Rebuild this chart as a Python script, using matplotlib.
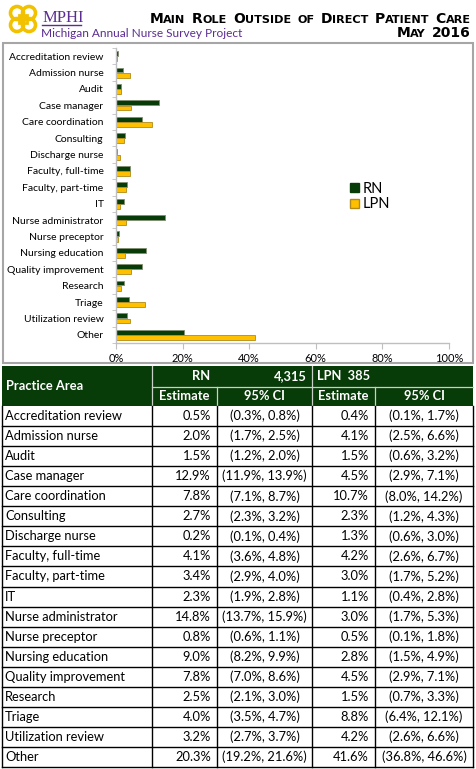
import matplotlib
matplotlib.use("Agg")
import matplotlib.pyplot as plt
from matplotlib.patches import Rectangle, Circle, Patch
from matplotlib.offsetbox import TextArea, HPacker, AnchoredOffsetbox
import numpy as np

# ---- data -------------------------------------------------------------
areas = [
    "Accreditation review", "Admission nurse", "Audit", "Case manager",
    "Care coordination", "Consulting", "Discharge nurse", "Faculty, full-time",
    "Faculty, part-time", "IT", "Nurse administrator", "Nurse preceptor",
    "Nursing education", "Quality improvement", "Research", "Triage",
    "Utilization review", "Other",
]
rn_est = [0.5, 2.0, 1.5, 12.9, 7.8, 2.7, 0.2, 4.1, 3.4, 2.3, 14.8, 0.8,
          9.0, 7.8, 2.5, 4.0, 3.2, 20.3]
rn_lo = [0.3, 1.7, 1.2, 11.9, 7.1, 2.3, 0.1, 3.6, 2.9, 1.9, 13.7, 0.6,
         8.2, 7.0, 2.1, 3.5, 2.7, 19.2]
rn_hi = [0.8, 2.5, 2.0, 13.9, 8.7, 3.2, 0.4, 4.8, 4.0, 2.8, 15.9, 1.1,
         9.9, 8.6, 3.0, 4.7, 3.7, 21.6]
lpn_est = [0.4, 4.1, 1.5, 4.5, 10.7, 2.3, 1.3, 4.2, 3.0, 1.1, 3.0, 0.5,
           2.8, 4.5, 1.5, 8.8, 4.2, 41.6]
lpn_lo = [0.1, 2.5, 0.6, 2.9, 8.0, 1.2, 0.6, 2.6, 1.7, 0.4, 1.7, 0.1,
          1.5, 2.9, 0.7, 6.4, 2.6, 36.8]
lpn_hi = [1.7, 6.6, 3.2, 7.1, 14.2, 4.3, 3.0, 6.7, 5.2, 2.8, 5.3, 1.8,
          4.9, 7.1, 3.3, 12.1, 6.6, 46.6]
rn_n = "4,315"
lpn_n = "385"
x_ticks = [0, 20, 40, 60, 80, 100]

GREEN = "#073b07"
GOLD = "#ffc000"
PURPLE = "#5c2d91"
FONT = ["Lato", "DejaVu Sans"]
plt.rcParams["font.family"] = FONT

W, H = 476, 769
fig = plt.figure(figsize=(W / 100, H / 100), dpi=100)

# overlay axes in pixel coordinates for header, frame and table
bg = fig.add_axes([0, 0, 1, 1])
bg.set_xlim(0, W)
bg.set_ylim(H, 0)
bg.axis("off")

# ---- header: logo -----------------------------------------------------
for cx, cy in [(17, 13), (29, 13), (17, 25), (29, 25)]:
    bg.add_patch(Circle((cx, cy), 6.5, fill=False, ec="#f2c200", lw=2.6))
bg.add_patch(Rectangle((19, 15), 8, 8, fill=False, ec="#f2c200", lw=2.0))
bg.text(43, 22, "MPHI", family="Liberation Serif", size=12, color=PURPLE,
        va="baseline")
bg.plot([42, 81], [25, 25], color=PURPLE, lw=1.0)
bg.text(41, 37, "Michigan Annual Nurse Survey Project", size=8.6,
        color=PURPLE, va="baseline")


def small_caps(text, big, small):
    """Fake small caps: capitals at `big`, lower-case letters upper-cased at `small`."""
    words = []
    for w in text.split():
        runs, cur, cur_big = [], "", None
        for ch in w:
            is_big = not ch.islower()
            if cur and is_big != cur_big:
                runs.append((cur, cur_big))
                cur = ""
            cur += ch.upper()
            cur_big = is_big
        runs.append((cur, cur_big))
        parts = [TextArea(s, textprops=dict(size=big if b else small,
                                            weight="bold", family="DejaVu Sans"))
                 for s, b in runs]
        words.append(HPacker(children=parts, align="baseline", pad=0, sep=0))
    return HPacker(children=words, align="baseline", pad=0, sep=4.5)


for txt, ytop in [("Main Role Outside of Direct Patient Care", 12),
                  ("May 2016", 26)]:
    box = AnchoredOffsetbox(loc="upper right", child=small_caps(txt, 10, 8.1),
                            bbox_to_anchor=(471 / W, 1 - ytop / H),
                            bbox_transform=fig.transFigure, frameon=False,
                            pad=0, borderpad=0)
    bg.add_artist(box)

# ---- chart frame ------------------------------------------------------
bg.add_patch(Rectangle((2.5, 42.5), 470, 320, fill=False, ec="#a6a6a6", lw=1.5))

# ---- bar chart --------------------------------------------------------
ax = fig.add_axes([116 / W, 1 - 343 / H, (449 - 116) / W, (343 - 48) / H])
y = np.arange(len(areas))
bh = 0.3
ax.barh(y - 0.16, rn_est, height=bh, color=GREEN, edgecolor="#7f8f70", lw=0.6,
        label="RN")
ax.barh(y + 0.16, lpn_est, height=bh, color=GOLD, edgecolor="#b08a1a", lw=0.6,
        label="LPN")
ax.set_xlim(0, 100)
ax.set_ylim(len(areas) - 0.5, -0.5)
ax.set_yticks(y)
ax.set_yticklabels(areas, fontsize=7.5)
ax.set_yticks(np.arange(len(areas) + 1) - 0.5, minor=True)
ax.tick_params(axis="y", which="major", length=0, pad=9)
ax.tick_params(axis="y", which="minor", length=3, color="#bfbfbf")
ax.set_xticks(x_ticks)
ax.set_xticklabels([f"{t}%" for t in x_ticks], fontsize=7.9)
ax.tick_params(axis="x", length=4, color="#bfbfbf", pad=3)
for s in ["top", "right"]:
    ax.spines[s].set_visible(False)
for s in ["left", "bottom"]:
    ax.spines[s].set_color("#bfbfbf")
    ax.spines[s].set_linewidth(1.0)
ax.legend(handles=[Patch(color=GREEN, label="RN"), Patch(color=GOLD, ec="#b08a1a", label="LPN")],
          loc="upper left", bbox_to_anchor=(350 / W, 1 - 182 / H),
          bbox_transform=fig.transFigure, frameon=False, fontsize=10.5,
          handlelength=0.6, handleheight=0.6, handletextpad=0.3,
          labelspacing=0.1, borderpad=0, borderaxespad=0)

# ---- table ------------------------------------------------------------
col_x = [2, 152, 217, 312, 375, 473]
top, h1, h2 = 366, 387, 406
bottom = 767
row_h = (bottom - h2) / len(areas)
tfs = 9.3

bg.add_patch(Rectangle((col_x[0], top), col_x[-1] - col_x[0], h2 - top,
                       color=GREEN, lw=0))
hl = dict(color="#c8d0c8", lw=0.9)
bg.plot([col_x[1], col_x[-1]], [h1, h1], **hl)
for cx in col_x[1:-1]:
    y0 = top if cx in (col_x[1], col_x[3]) else h1
    bg.plot([cx, cx], [y0, h2], **hl)
hdr = dict(color="white", weight="bold", size=tfs, va="center")
bg.text(col_x[0] + 4, (top + h2) / 2, "Practice Area", ha="left", **hdr)
bg.text(col_x[2] - 7, (top + h1) / 2, "RN", ha="right", **hdr)
bg.text(col_x[3] - 5, (top + h1) / 2, rn_n, ha="right", **hdr)
bg.text(col_x[3] + 5, (top + h1) / 2, f"LPN  {lpn_n}", ha="left", **hdr)
for i, lab in enumerate(["Estimate", "95% CI", "Estimate", "95% CI"]):
    bg.text((col_x[i + 1] + col_x[i + 2]) / 2, (h1 + h2) / 2, lab, ha="center", **hdr)

for i, area in enumerate(areas):
    yc = h2 + (i + 0.5) * row_h
    kw = dict(size=tfs, va="center", color="black")
    bg.text(col_x[0] + 3, yc, area, ha="left", **kw)
    bg.text(col_x[2] - 6, yc, f"{rn_est[i]:.1f}%", ha="right", **kw)
    bg.text((col_x[2] + col_x[3]) / 2, yc, f"({rn_lo[i]:.1f}%, {rn_hi[i]:.1f}%)",
            ha="center", **kw)
    bg.text(col_x[4] - 6, yc, f"{lpn_est[i]:.1f}%", ha="right", **kw)
    bg.text((col_x[4] + col_x[5]) / 2, yc, f"({lpn_lo[i]:.1f}%, {lpn_hi[i]:.1f}%)",
            ha="center", **kw)
    bg.plot([col_x[0], col_x[-1]], [h2 + (i + 1) * row_h] * 2, color="black", lw=1.0)
for cx in col_x:
    bg.plot([cx, cx], [h2, bottom], color="black", lw=1.0)

fig.savefig("out.png", dpi=100)
